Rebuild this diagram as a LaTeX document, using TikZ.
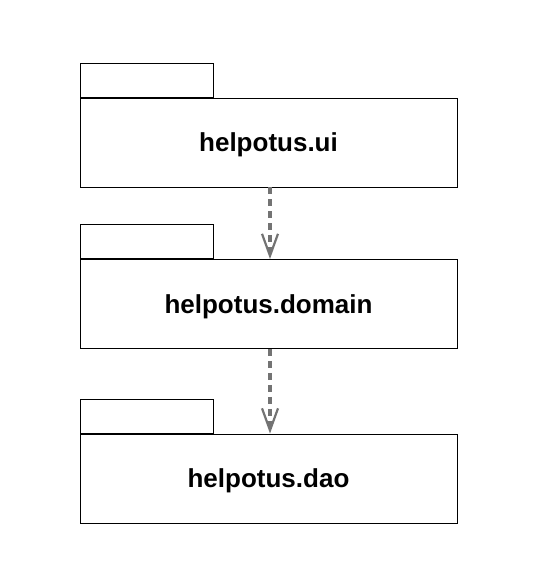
\documentclass[tikz,border=0pt]{standalone}
\usepackage{fontspec}
\setmainfont{Liberation Sans}
\usetikzlibrary{arrows.meta,positioning}

\begin{document}
\begin{tikzpicture}[
    x=1pt, y=-1pt,
    every node/.style={font=\bfseries\fontsize{26}{30}\selectfont},
    pkgbody/.style={draw, line width=0.9pt, minimum width=377pt, minimum height=89pt, inner sep=0pt, text depth=0pt},
    pkgtab/.style={draw, line width=0.9pt, minimum width=133pt, minimum height=34pt, inner sep=0pt, anchor=south west},
    dep/.style={draw=black!55, line width=3.6pt, dash pattern=on 7pt off 5pt,
      -{Straight Barb[open, length=22pt, width=16pt, line width=2.2pt]}}
  ]
    \useasboundingbox (0,0) rectangle (553,584);
    % packages
    \node[pkgbody] (ui) at (268.5,142.5) {helpotus.ui};
    \node[pkgtab] (uitab) at (ui.north west) {};
    \node[pkgbody] (domain) at (268.5,304) {helpotus.domain};
    \node[pkgtab] (domaintab) at (domain.north west) {};
    \node[pkgbody] (dao) at (268.5,478.5) {helpotus.dao};
    \node[pkgtab] (daotab) at (dao.north west) {};
    % dependencies
    \draw[dep] (ui.south -| 270,0) -- (domain.north -| 270,0);
    \draw[dep] (domain.south -| 270,0) -- (dao.north -| 270,0);
\end{tikzpicture}
\end{document}
